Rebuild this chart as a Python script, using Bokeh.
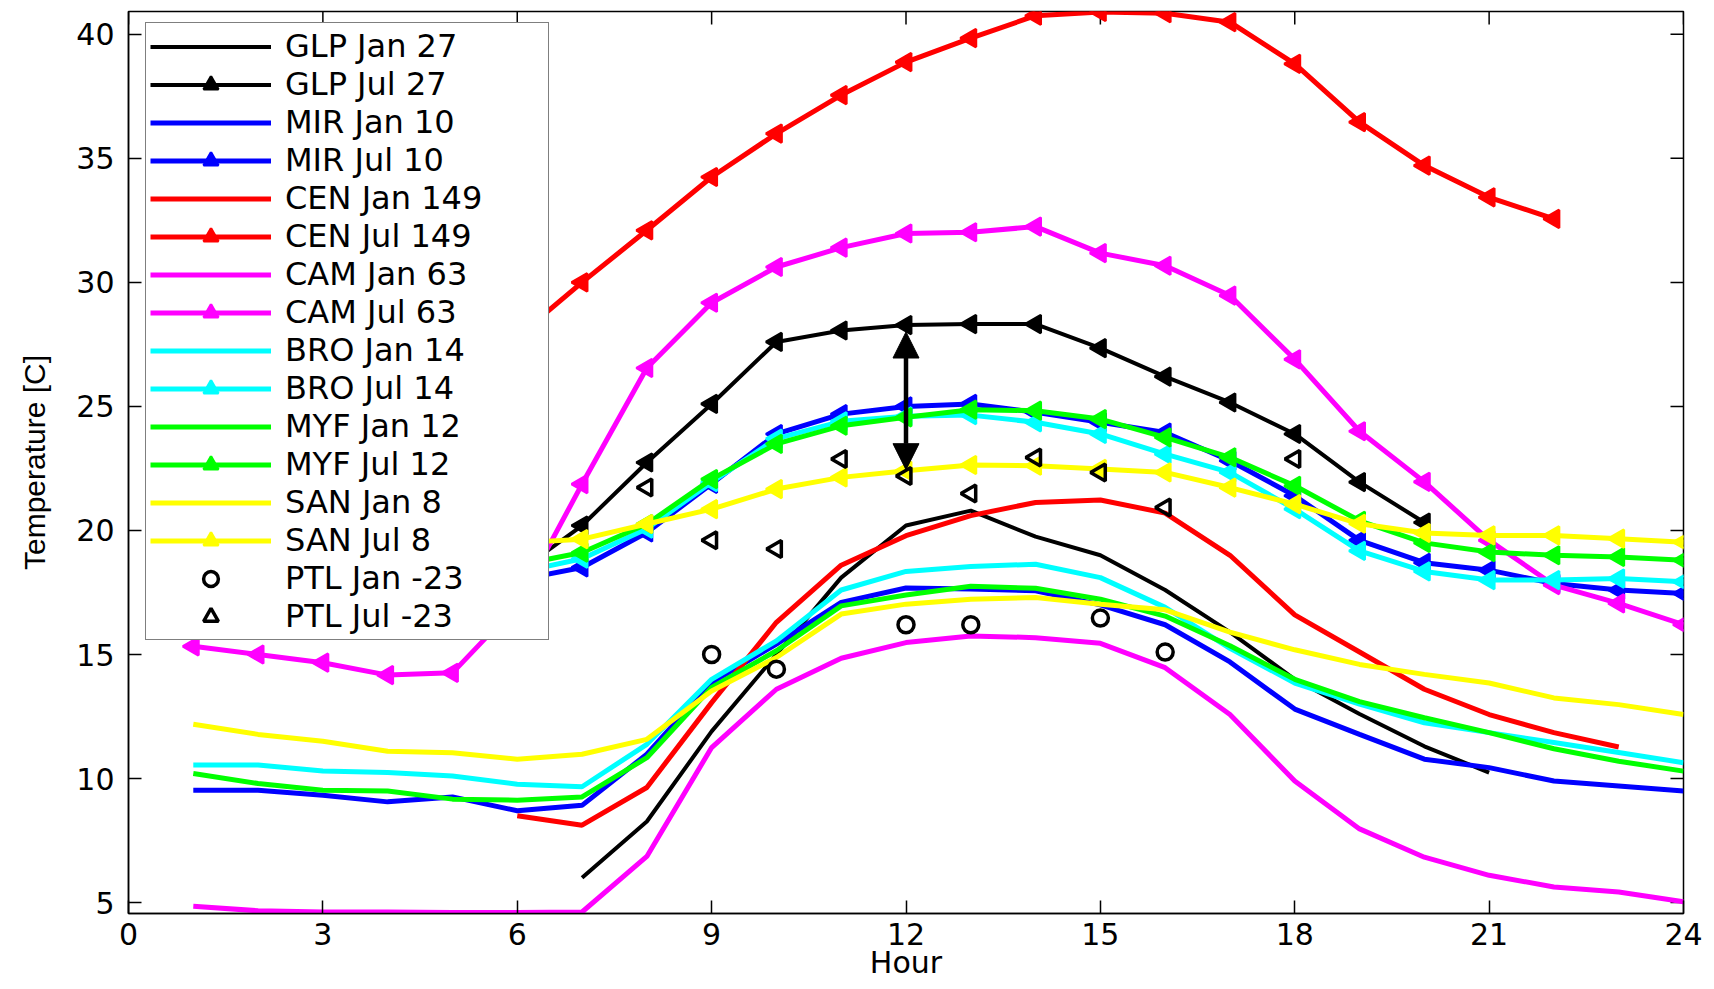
import math
from bokeh.plotting import figure
from bokeh.models import (Range1d, FixedTicker, Legend, LegendItem, Arrow, NormalHead)
from bokeh.embed import file_html
from bokeh.resources import INLINE

# ---------------- data ----------------
HOURS = list(range(1, 25))
X_TICKS = [0, 3, 6, 9, 12, 15, 18, 21, 24]
Y_TICKS = [5, 10, 15, 20, 25, 30, 35, 40]
X_MIN, X_MAX = 0, 24
Y_MIN, Y_MAX = 4.56, 40.92

GLP_JAN = [None, None, None, None, None, None, 6.0, 8.27, 11.9, 15.0, 18.1, 20.2,
           20.8, 19.75, 19.0, 17.6, 15.9, 14.0, 12.6, 11.3, 10.24, None, None, None]
GLP_JUL = [21.6, 21.0, 20.4, 19.8, 19.0, 18.3, 20.2, 22.74, 25.1, 27.6, 28.06, 28.28,
           28.32, 28.32, 27.35, 26.2, 25.16, 23.89, 21.95, 20.32, None, None, None, None]
MIR_JAN = [9.53, 9.53, 9.33, 9.06, 9.26, 8.7, 8.92, 10.98, 13.87, 15.42, 17.1, 17.68,
           17.64, 17.57, 17.0, 16.2, 14.7, 12.8, 11.78, 10.78, 10.44, 9.9, 9.7, 9.5]
MIR_JUL = [19.0, 18.7, 18.4, 18.2, 18.0, 18.0, 18.51, 19.92, 21.88, 23.89, 24.69, 25.0,
           25.1, 24.76, 24.36, 23.95, 22.81, 21.4, 19.6, 18.7, 18.4, 17.86, 17.6, 17.46]
CEN_JAN = [None, None, None, None, None, 8.5, 8.12, 9.64, 13.06, 16.3, 18.6, 19.79,
           20.6, 21.13, 21.23, 20.7, 19.0, 16.6, 15.1, 13.6, 12.58, 11.85, 11.27, None]
CEN_JUL = [30.4, 29.6, 28.9, 28.3, 27.9, 27.8, 30.0, 32.1, 34.25, 36.0, 37.55, 38.88,
           39.85, 40.75, 40.9, 40.85, 40.49, 38.81, 36.46, 34.71, 33.43, 32.56, None, None]
CAM_JAN = [4.85, 4.67, 4.62, 4.62, 4.6, 4.6, 4.62, 6.86, 11.25, 13.6, 14.85, 15.48,
           15.75, 15.68, 15.45, 14.47, 12.58, 9.9, 7.97, 6.83, 6.1, 5.63, 5.43, 5.03]
CAM_JUL = [15.33, 15.0, 14.67, 14.17, 14.26, 17.0, 21.87, 26.55, 29.18, 30.62, 31.4, 31.97,
           32.02, 32.25, 31.18, 30.67, 29.47, 26.9, 24.0, 21.96, 19.6, 17.8, 17.06, 16.2]
BRO_JAN = [10.55, 10.55, 10.3, 10.24, 10.1, 9.77, 9.67, 11.38, 14.0, 15.55, 17.6, 18.35,
           18.55, 18.64, 18.1, 16.9, 15.25, 13.85, 13.0, 12.25, 11.85, 11.45, 11.05, 10.64]
BRO_JUL = [19.3, 19.0, 18.8, 18.6, 18.4, 18.3, 18.86, 20.07, 21.95, 23.7, 24.4, 24.6,
           24.65, 24.36, 23.89, 23.08, 22.34, 20.86, 19.18, 18.35, 18.0, 18.0, 18.06, 17.93]
MYF_JAN = [10.2, 9.8, 9.53, 9.5, 9.17, 9.13, 9.26, 10.84, 13.67, 15.15, 16.96, 17.4,
           17.75, 17.67, 17.23, 16.55, 15.35, 14.0, 13.1, 12.45, 11.85, 11.2, 10.7, 10.3]
MYF_JUL = [19.6, 19.3, 19.0, 18.8, 18.7, 18.6, 19.11, 20.26, 22.07, 23.49, 24.22, 24.56,
           24.87, 24.83, 24.49, 23.75, 22.95, 21.8, 20.39, 19.5, 19.13, 19.0, 18.93, 18.8]
SAN_JAN = [12.19, 11.78, 11.5, 11.1, 11.04, 10.78, 10.98, 11.58, 13.53, 14.88, 16.63, 17.03,
           17.23, 17.3, 17.03, 16.8, 15.9, 15.19, 14.6, 14.2, 13.85, 13.25, 12.98, 12.58]
SAN_JUL = [20.4, 20.2, 20.0, 19.8, 19.6, 19.5, 19.65, 20.26, 20.86, 21.67, 22.14, 22.41,
           22.64, 22.61, 22.48, 22.34, 21.73, 21.06, 20.27, 19.9, 19.8, 19.8, 19.67, 19.53]

PTL_JAN_HOURS = [9, 10, 12, 13, 15, 16]
PTL_JAN = [15.0, 14.41, 16.2, 16.2, 16.47, 15.1]
PTL_JUL_HOURS = [8, 9, 10, 11, 12, 13, 14, 15, 16, 18]
PTL_JUL = [21.73, 19.61, 19.25, 22.88, 22.2, 21.49, 22.94, 22.34, 20.93, 22.88]

ARROW_HOUR = 12
ARROW_LOW = 22.45
ARROW_HIGH = 28.0

LABELS = ["GLP Jan 27", "GLP Jul 27", "MIR Jan 10", "MIR Jul 10", "CEN Jan 149", "CEN Jul 149",
          "CAM Jan 63", "CAM Jul 63", "BRO Jan 14", "BRO Jul 14", "MYF Jan 12", "MYF Jul 12",
          "SAN Jan 8", "SAN Jul 8", "PTL Jan -23", "PTL Jul -23"]
COLORS = ["#000000", "#000000", "#0000FF", "#0000FF", "#FF0000", "#FF0000", "#FF00FF", "#FF00FF",
          "#00FFFF", "#00FFFF", "#00FF00", "#00FF00", "#FFFF00", "#FFFF00"]
SERIES = [GLP_JAN, GLP_JUL, MIR_JAN, MIR_JUL, CEN_JAN, CEN_JUL, CAM_JAN, CAM_JUL,
          BRO_JAN, BRO_JUL, MYF_JAN, MYF_JUL, SAN_JAN, SAN_JUL]


def arr(v):
    return [float("nan") if a is None else a for a in v]


# ---------------- figure ----------------
p = figure(width=1706, height=989, output_backend="svg", toolbar_location=None,
           x_range=Range1d(X_MIN, X_MAX), y_range=Range1d(Y_MIN, Y_MAX),
           min_border_left=128, min_border_right=23, min_border_top=11, min_border_bottom=76)
p.grid.visible = False
p.background_fill_color = "white"
p.border_fill_color = "white"
p.outline_line_color = "black"
p.outline_line_width = 1.5
p.outline_line_alpha = 1.0


def style_axis(ax, ticks):
    ax.ticker = FixedTicker(ticks=ticks)
    ax.axis_line_color = "black"
    ax.axis_line_width = 1.5
    ax.major_tick_line_color = "black"
    ax.major_tick_line_width = 1.5
    ax.major_tick_in = 13
    ax.major_tick_out = 0
    ax.minor_tick_line_color = None
    ax.major_label_text_font = "DejaVu Sans"
    ax.major_label_text_color = "black"
    ax.major_label_text_font_size = "30px"
    ax.axis_label_text_font_style = "normal"
    ax.axis_label_text_color = "black"
    ax.axis_label_text_font_size = "30px"


xax = p.below[0]
yax = p.left[0]
style_axis(xax, X_TICKS)
style_axis(yax, Y_TICKS)
xax.major_label_standoff = 9
xax.axis_label = "Hour"
xax.axis_label_text_font = "DejaVu Sans"
xax.axis_label_standoff = -3
yax.major_label_standoff = 14
yax.axis_label = "Temperature [C]"
yax.axis_label_text_font = "Liberation Sans"
yax.axis_label_standoff = 22

# inward ticks on the top and right edges of the box (at the tick values)
p.scatter(X_TICKS, [Y_MAX] * len(X_TICKS), marker="dash", angle=math.pi / 2, size=26,
          line_color="black", line_width=1.5)
p.scatter([X_MAX] * len(Y_TICKS), Y_TICKS, marker="dash", size=26,
          line_color="black", line_width=1.5)

# ---------------- series ----------------
items = []
for i, (label, vals, color) in enumerate(zip(LABELS[:14], SERIES, COLORS)):
    lw = 4 if color == "#000000" else 5
    rs = [p.line(HOURS, arr(vals), line_color=color, line_width=lw)]
    if i % 2 == 1:
        rs.append(p.scatter(HOURS, arr(vals), marker="triangle", angle=math.pi / 2, size=18,
                            fill_color=color, line_color=color, line_width=2.5))
    items.append(LegendItem(label=label, renderers=rs))

r_pj = p.scatter(PTL_JAN_HOURS, PTL_JAN, marker="circle", size=16, fill_color=None,
                 line_color="black", line_width=3.5)
items.append(LegendItem(label=LABELS[14], renderers=[r_pj]))
r_pu = p.scatter(PTL_JUL_HOURS, PTL_JUL, marker="triangle", angle=math.pi / 2, size=17,
                 fill_color=None, line_color="black", line_width=3.5)
items.append(LegendItem(label=LABELS[15], renderers=[r_pu]))

p.add_layout(Arrow(start=NormalHead(size=26, fill_color="black", line_color="black"),
                   end=NormalHead(size=26, fill_color="black", line_color="black"),
                   x_start=ARROW_HOUR, y_start=ARROW_LOW, x_end=ARROW_HOUR, y_end=ARROW_HIGH,
                   line_width=4.5, line_color="black"))

legend = Legend(items=items, location=(17, 273), padding=4, spacing=0,
                glyph_width=121, glyph_height=37, label_height=37, label_width=259,
                label_standoff=14, label_text_font="DejaVu Sans", label_text_font_size="32px",
                label_text_color="black", border_line_color="black", border_line_width=1.5,
                background_fill_color="white", background_fill_alpha=1.0)
p.add_layout(legend)

open("out.html", "w").write(file_html(p, INLINE))
